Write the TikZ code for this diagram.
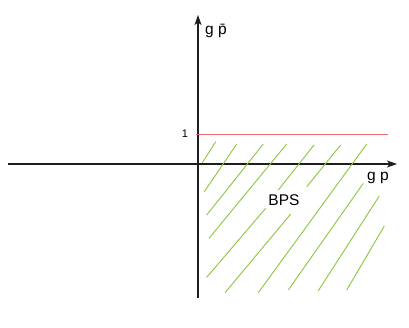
\documentclass[tikz,border=0pt]{standalone}
\usepackage{fontspec}
\setmainfont{Liberation Sans}
\usetikzlibrary{arrows.meta}
\definecolor{hatch}{RGB}{141,198,63}
\definecolor{axis}{RGB}{30,30,30}
\begin{document}
\begin{tikzpicture}[x=1pt,y=-1pt,
  axisline/.style={draw=axis,line width=1.2pt,-{Stealth[length=10pt,width=7pt,inset=2.5pt]}},
  hatchline/.style={draw=hatch,line width=0.9pt},
  limitline/.style={draw={rgb,255:red,238;green,105;blue,112},line width=1.1pt},
  lbl/.style={inner sep=0pt,font=\fontsize{15.5}{18}\selectfont},
  small/.style={inner sep=0pt,font=\fontsize{11}{13}\selectfont}]
\useasboundingbox[fill=white] (0,0) rectangle (409,327);
% axes
\coordinate (xl) at (8,164);
\coordinate (xr) at (397,164);
\coordinate (yb) at (198,298);
\coordinate (yt) at (198,15);
\draw[axisline] (xl) -- (xr);
\draw[axisline] (yb) -- (yt);
% red line
\coordinate (r1) at (196,134.6);
\coordinate (r2) at (388,134.6);
\draw[limitline] (r1) -- (r2);
% hatching
\draw[hatchline] (215.7,141.7) -- (202.3,162.7);
\draw[hatchline] (236.7,144) -- (204.3,191.7);
\draw[hatchline] (263.3,144) -- (206.7,215);
\draw[hatchline] (286.7,144) -- (209,238.3);
\draw[hatchline] (314,145) -- (278.3,190);
\draw[hatchline] (265.7,208.3) -- (206.7,277.3);
\draw[hatchline] (340.7,145) -- (306.7,186.7);
\draw[hatchline] (290.7,214) -- (225,292.7);
\draw[hatchline] (366.7,144) -- (258.3,292.7);
\draw[hatchline] (363.3,183.3) -- (288.3,290);
\draw[hatchline] (379.3,196) -- (318.3,290.7);
\draw[hatchline] (384.3,226) -- (346.7,290);
% labels
\node[lbl] (ylab) at (216,31) {g \=p};
\node[lbl] (xlab) at (378,178) {g p};
\node[lbl] (bps) at (284,200) {BPS};
\node[small] (one) at (185,134) {1};
\end{tikzpicture}
\end{document}
